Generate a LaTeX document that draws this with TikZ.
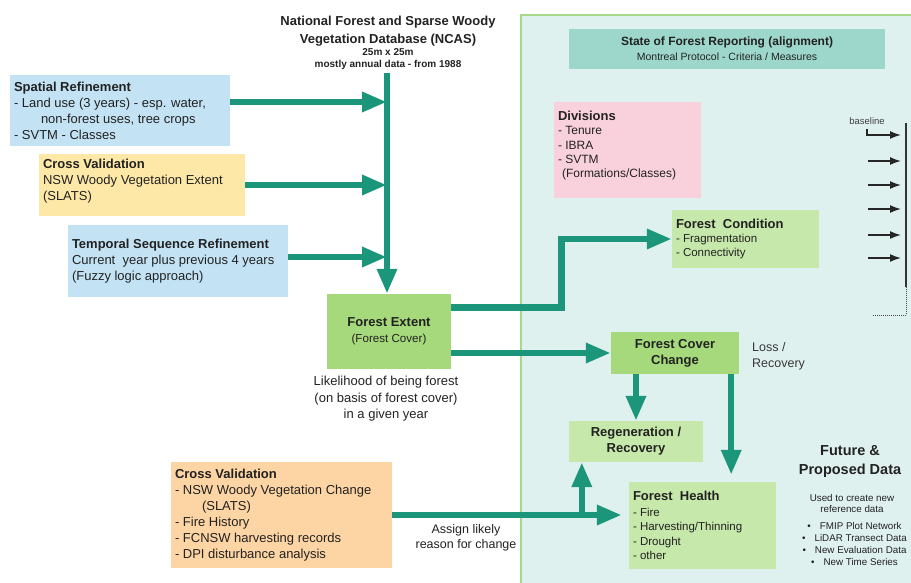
\documentclass[tikz,border=0pt]{standalone}
\usepackage{fontspec}
\setmainfont{Liberation Sans}
\usetikzlibrary{arrows.meta,calc}
\definecolor{tealarrow}{HTML}{1B967A}
\definecolor{panelbg}{HTML}{DFF1EF}
\definecolor{panelline}{HTML}{A8D98B}
\definecolor{boxblue}{HTML}{C3E3F5}
\definecolor{boxyellow}{HTML}{FDE8A8}
\definecolor{boxorange}{HTML}{FDD4A3}
\definecolor{boxgreen}{HTML}{A6D97B}
\definecolor{boxlgreen}{HTML}{C6E8AA}
\definecolor{boxteal}{HTML}{9DD7CB}
\definecolor{boxpink}{HTML}{F9D1DC}
\definecolor{txt}{HTML}{222222}
\begin{document}
\begin{tikzpicture}[x=1pt,y=-1pt,
  every node/.style={text=txt, inner sep=0pt},
  leftbox/.style={rectangle, align=flush left, inner xsep=4pt, inner ysep=0pt},
  cbox/.style={rectangle, align=center, inner sep=0pt},
  body/.style={font=\fontsize{13}{16}\selectfont},
  small/.style={font=\fontsize{11.5}{14.3}\selectfont},
  tarrow/.style={draw=tealarrow, line width=6.5pt, -{Triangle[length=25pt,width=19pt]}},
  barrow/.style={draw=black!85, line width=1.5pt, -{Latex[length=11pt,width=8pt]}, shorten >=5pt}]
\useasboundingbox (0,0) rectangle (911,583);
% right panel
\path[fill=panelbg, draw=panelline, line width=2pt] (521,15) rectangle (940,600);

% title
\node[font=\bfseries\fontsize{13}{18}\selectfont, align=center] (db) at (388,31) {National Forest and Sparse Woody\\Vegetation Database (NCAS)};
\node[font=\bfseries\fontsize{10}{12}\selectfont, align=center] (dbs) at (388,59) {25m x 25m\\mostly annual data - from 1988};

% left boxes
\node[fill=boxblue, leftbox, body, text width=212pt, minimum height=71pt] (sr) at (120,111)
  {\textbf{Spatial Refinement}\\- Land use (3 years) - esp. water,\\\hspace*{27pt}non-forest uses, tree crops\\- SVTM - Classes};
\node[fill=boxyellow, leftbox, body, text width=198pt, minimum height=62pt] (cv1) at (142,185)
  {\textbf{Cross Validation}\\NSW Woody Vegetation Extent\\(SLATS)\\[-6pt]\mbox{}};
\node[fill=boxblue, leftbox, body, text width=212pt, minimum height=72pt] (tsr) at (178,261)
  {\textbf{Temporal Sequence Refinement}\\Current\ \ year plus previous 4 years\\(Fuzzy logic approach)};

% forest extent
\node[fill=boxgreen, cbox, body, minimum width=124pt, minimum height=75pt] (fe) at (389,331.5)
  {\textbf{Forest Extent}\\{\fontsize{11.6}{14}\selectfont (Forest Cover)}};
\node[font=\fontsize{13}{16.5}\selectfont, align=center] (like) at (386,399)
  {Likelihood of being forest\\(on basis of forest cover)\\in a given year};

% right panel boxes
\node[fill=boxteal, cbox, font=\fontsize{10.5}{15}\selectfont, minimum width=316pt, minimum height=40pt] (sofr) at (727,49)
  {{\fontsize{12}{15}\selectfont\bfseries State of Forest Reporting (alignment)}\\Montreal Protocol - Criteria / Measures};
\node[fill=boxpink, leftbox, font=\fontsize{12}{14.3}\selectfont, text width=139pt, minimum height=96pt] (div) at (627.5,150)
  {{\fontsize{13}{14}\selectfont\bfseries Divisions}\\- Tenure\\- IBRA\\- SVTM\\\hspace*{4pt}(Formations/Classes)\\[-3pt]\mbox{}};
\node[fill=boxlgreen, leftbox, small, text width=139pt, minimum height=58pt] (fc) at (745.5,239)
  {{\fontsize{13}{14}\selectfont\bfseries Forest\ \ Condition}\\- Fragmentation\\- Connectivity};
\node[fill=boxgreen, cbox, font=\bfseries\fontsize{13}{16}\selectfont, minimum width=128pt, minimum height=42pt] (fcc) at (675,353)
  {Forest Cover\\Change};
\node[font=\fontsize{12.5}{16}\selectfont, align=left, anchor=west, text=txt!90] (loss) at (752,356) {Loss /\\Recovery};
\node[fill=boxlgreen, cbox, font=\bfseries\fontsize{13}{16}\selectfont, minimum width=134pt, minimum height=41pt] (regen) at (636,441.5)
  {Regeneration /\\Recovery};
\node[fill=boxlgreen, leftbox, small, text width=139pt, minimum height=87pt] (fh) at (702.5,525.5)
  {{\fontsize{13}{14}\selectfont\bfseries Forest\ \ Health}\\[1.5pt]- Fire\\- Harvesting/Thinning\\- Drought\\- other};

% cross validation change
\node[fill=boxorange, leftbox, body, text width=213pt, minimum height=106pt] (cv2) at (281.5,515)
  {\textbf{Cross Validation}\\- NSW Woody Vegetation Change\\\hspace*{27pt}(SLATS)\\- Fire History\\- FCNSW harvesting records\\- DPI disturbance analysis};
\node[font=\fontsize{12.5}{15.5}\selectfont, align=center] (assign) at (466,538) {Assign likely\\reason for change};

% future data
\node[font=\bfseries\fontsize{14.5}{19}\selectfont, align=center] (fut) at (850,461.5) {Future \&\\Proposed Data};
\node[font=\fontsize{9.8}{11.5}\selectfont, align=center] (used) at (852,503.5) {Used to create new\\reference data};
\node[font=\fontsize{9.8}{12}\selectfont, align=center] (bul) at (854.5,543.5)
  {\textbullet\hspace{9pt}FMIP Plot Network\\\textbullet\hspace{9pt}LiDAR Transect Data\\\textbullet\hspace{9pt}New Evaluation Data\\\textbullet\hspace{9pt}New Time Series};

% baseline timeline
\coordinate (blt) at (906,123);
\coordinate (blb) at (906,287);
\coordinate (bld) at (906,315);
\coordinate (ble) at (873,315);
\draw[line width=1.6pt, draw=black!80] (blt) -- (blb);
\draw[densely dotted, line width=1pt, draw=black!70] (blb) -- (bld) -- (ble);
\node[font=\fontsize{9.5}{11}\selectfont, text=black!75] (bsl) at (867,121) {baseline};
\coordinate (l0) at (867,129);
\coordinate (a1) at (868,135);
\draw[barrow] (l0) |- (a1 -| blt);
\foreach \i/\yy in {2/161,3/185,4/209,5/235,6/258}{
  \coordinate (a\i) at (868,\yy);
  \draw[barrow] (a\i) -- (a\i -| blt);
}

% connectors
\coordinate (vl) at (387,73);
\draw[tarrow] (vl) -- (vl |- fe.north);
\coordinate (sra) at ($(sr.east)+(0,-9)$);
\draw[tarrow] (sra) -- (sra -| vl);
\draw[tarrow] (cv1.east) -- (cv1.east -| vl);
\coordinate (tsra) at ($(tsr.east)+(0,-4)$);
\draw[tarrow] (tsra) -- (tsra -| vl);

\coordinate (fe1) at ($(fe.east)+(0,-24)$);
\draw[tarrow] (fe1) -| ($(fe1)!0.5!(fc.west)$) |- (fc.west);
\draw[tarrow] (fcc.west -| fe.east) -- (fcc.west);

\draw[tarrow] (fcc.south -| regen.north) -- (regen.north);
\coordinate (fcr) at ($(fcc.south east)+(-8,0)$);
\draw[tarrow, shorten >=7pt] (fcr) -- (fcr |- fh.north);

\draw[tarrow, shorten >=7pt] (cv2.east) -- (cv2.east -| fh.west);
\coordinate (upb) at ($(regen.south west)+(13,0)$);
\draw[tarrow] (upb |- cv2.east) -- (upb);
\end{tikzpicture}
\end{document}
